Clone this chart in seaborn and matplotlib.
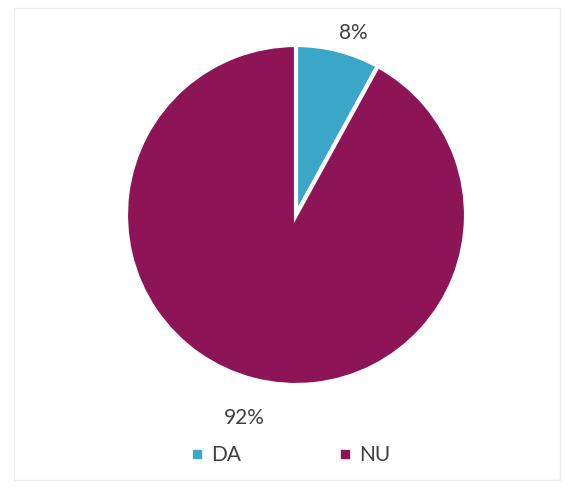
import numpy as np
import matplotlib
matplotlib.use("Agg")
import matplotlib.pyplot as plt
import seaborn as sns
from matplotlib.lines import Line2D
from matplotlib.patches import Rectangle

# data
labels = ["DA", "NU"]
values = [8, 92]
colors = ["#3aa6c8", "#8c1457"]

sns.set_theme(style="white")
plt.rcParams["font.family"] = ["Lato", "DejaVu Sans"]

fig = plt.figure(figsize=(5.72, 4.88), dpi=100)
fig.patch.set_facecolor("white")
# faint chart frame
fig.add_artist(Rectangle((14 / 572, 8 / 488), 546 / 572, 472 / 488,
                         transform=fig.transFigure, fill=False,
                         edgecolor="#ececec", linewidth=1))

ax = fig.add_axes([(296 - 170) / 572, (273 - 170) / 488, 340 / 572, 340 / 488])
wedges, _ = ax.pie(values, colors=colors, startangle=90, counterclock=False,
                   wedgeprops=dict(edgecolor="white", linewidth=3))
ax.set_xlim(-1, 1)
ax.set_ylim(-1, 1)
ax.set_aspect("equal")

# percentage labels outside the slices
dists = [1.12, 1.23]
shifts = [-3, 0]  # small angular nudge, degrees
for w, v, d, s in zip(wedges, values, dists, shifts):
    ang = np.deg2rad((w.theta1 + w.theta2) / 2 + s)
    ax.text(d * np.cos(ang), d * np.sin(ang), f"{v}%", ha="center", va="center",
            fontsize=15, color="#404040", clip_on=False)

handles = [Line2D([], [], marker="s", linestyle="none", markersize=6,
                  markerfacecolor=c, markeredgecolor=c) for c in colors]
fig.legend(handles, labels, loc="center", bbox_to_anchor=(0.508, 1 - 455 / 488),
           ncol=2, frameon=False, fontsize=15, columnspacing=4.7,
           handlelength=0.6, handletextpad=0.35, labelcolor="#404040")

fig.savefig("out.png", dpi=100)
